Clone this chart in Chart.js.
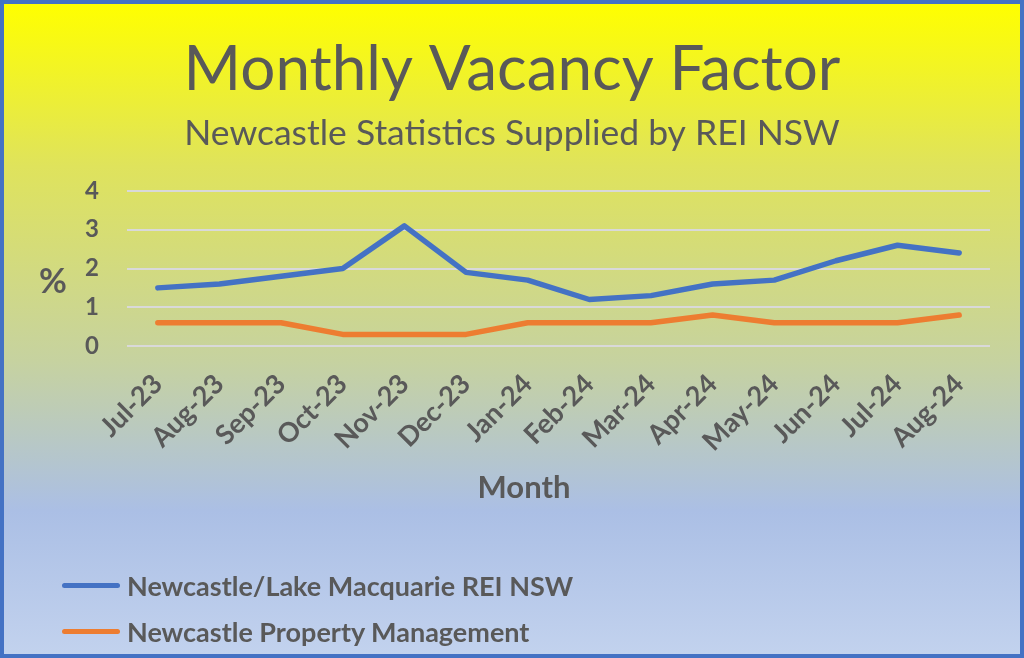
<!DOCTYPE html>
<html>
<head>
<meta charset="utf-8">
<title>Monthly Vacancy Factor</title>
<script src="https://cdn.jsdelivr.net/npm/chart.js@4"></script>
<style>
    html, body { margin: 0; padding: 0; }
    #wrap {
        position: relative;
        width: 1024px;
        height: 658px;
        box-sizing: border-box;
        border: 4px solid #4472c4;
        background: linear-gradient(to bottom, #ffff00 0%, #dfe35c 25%, #c6d2a0 55%, #abbfe5 78%, #c2d2ee 100%);
    }
    canvas { display: block; }
    #legend {
        position: absolute;
        left: 58px;
        top: 558px;
        font-family: Lato, "Open Sans", sans-serif;
        font-weight: bold;
        font-size: 27px;
        color: #595959;
    }
    #legend .item { display: flex; align-items: center; height: 46px; }
    #legend .swatch { width: 58px; height: 5px; border-radius: 3px; margin-right: 7px; }
</style>
</head>
<body>
<div id="wrap">
    <canvas id="vacancyChart" width="1016" height="650"></canvas>
    <div id="legend"></div>
</div>
<script>
// Chart data
const MONTHS = ["Jul-23", "Aug-23", "Sep-23", "Oct-23", "Nov-23", "Dec-23", "Jan-24",
    "Feb-24", "Mar-24", "Apr-24", "May-24", "Jun-24", "Jul-24", "Aug-24"];
const REI_NSW = [1.5, 1.6, 1.8, 2.0, 3.1, 1.9, 1.7, 1.2, 1.3, 1.6, 1.7, 2.2, 2.6, 2.4];
const NPM = [0.6, 0.6, 0.6, 0.3, 0.3, 0.3, 0.6, 0.6, 0.6, 0.8, 0.6, 0.6, 0.6, 0.8];
const Y_TICKS = [0, 1, 2, 3, 4];

const TEXT = "#595959";
const FONT = "Lato, 'Open Sans', sans-serif";

// Axis titles drawn upright, centred like the original ("%" is never rotated)
const axisTitles = {
    id: "axisTitles",
    afterDraw(chart) {
        const { ctx, chartArea } = chart;
        ctx.save();
        ctx.fillStyle = TEXT;
        ctx.textAlign = "center";
        ctx.textBaseline = "middle";
        ctx.font = "bold 34px " + FONT;
        ctx.fillText("%", 49, (chartArea.top + chartArea.bottom) / 2 + 14);
        ctx.font = "bold 31px " + FONT;
        ctx.fillText("Month", chart.width / 2 + 12, chartArea.bottom + 142);
        ctx.restore();
    }
};

const ctx = document.getElementById("vacancyChart").getContext("2d");
const chart = new Chart(ctx, {
    type: "line",
    data: {
        labels: MONTHS,
        datasets: [{
            label: "Newcastle/Lake Macquarie REI NSW",
            data: REI_NSW,
            borderColor: "#4472c4",
            backgroundColor: "#4472c4",
            borderWidth: 5.5,
            pointRadius: 0,
            borderCapStyle: "round",
            borderJoinStyle: "round",
        }, {
            label: "Newcastle Property Management",
            data: NPM,
            borderColor: "#ed7d31",
            backgroundColor: "#ed7d31",
            borderWidth: 5.5,
            pointRadius: 0,
            borderCapStyle: "round",
            borderJoinStyle: "round",
        }],
    },
    options: {
        responsive: false,
        animation: false,
        layout: { padding: { left: 30, right: 30, top: 29, bottom: 188 } },
        plugins: {
            title: {
                display: true,
                text: "Monthly Vacancy Factor",
                color: TEXT,
                font: { family: FONT, size: 62, weight: "normal" },
                padding: { top: 0, bottom: 5 },
            },
            subtitle: {
                display: true,
                text: "Newcastle Statistics Supplied by REI NSW",
                color: TEXT,
                font: { family: FONT, size: 35.5, weight: "normal" },
                padding: { top: 0, bottom: 36 },
            },
            legend: { display: false },
            tooltip: { enabled: false },
        },
        scales: {
            x: {
                offset: true,
                afterFit: (axis) => { axis.height = 120; },
                grid: { display: false },
                border: { display: false },
                ticks: {
                    color: TEXT,
                    font: { family: FONT, size: 27, weight: "bold" },
                    minRotation: 45,
                    maxRotation: 45,
                    autoSkip: false,
                    padding: 14,
                },
            },
            y: {
                min: 0,
                max: 4,
                afterBuildTicks: (axis) => { axis.ticks = Y_TICKS.map(v => ({ value: v })); },
                afterFit: (axis) => { axis.width = 93; },
                grid: { color: "#d9d9d9", lineWidth: 2, drawTicks: false },
                border: { display: false },
                ticks: {
                    color: TEXT,
                    font: { family: FONT, size: 24, weight: "bold" },
                    padding: 28,
                },
            },
        },
    },
    plugins: [axisTitles],
});

// HTML legend built from the chart's own legend items
const legendEl = document.getElementById("legend");
chart.options.plugins.legend.labels.generateLabels(chart).forEach(item => {
    const row = document.createElement("div");
    row.className = "item";
    const swatch = document.createElement("span");
    swatch.className = "swatch";
    swatch.style.background = item.strokeStyle;
    const label = document.createElement("span");
    label.textContent = item.text;
    row.appendChild(swatch);
    row.appendChild(label);
    legendEl.appendChild(row);
});
</script>
</body>
</html>
